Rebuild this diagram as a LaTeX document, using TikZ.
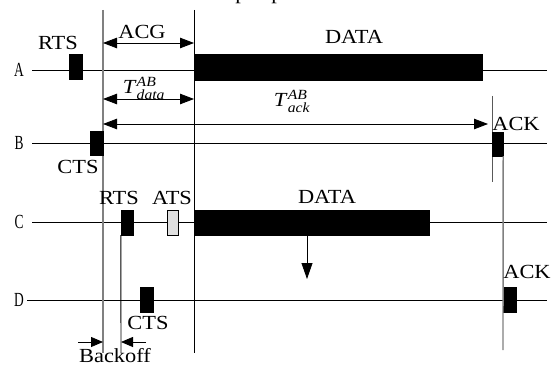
\documentclass[tikz,border=0pt]{standalone}
\usepackage{fontspec}
\usepackage{amsmath}
\setmainfont{Liberation Serif}[FakeStretch=1.12]
\usetikzlibrary{arrows.meta}
\begin{document}
\begin{tikzpicture}[x=1pt,y=-1pt,
  lbl/.style={inner sep=0pt, font=\fontsize{20}{20}\selectfont},
  row/.style={inner sep=0pt, font=\fontsize{20}{20}\selectfont},
  hline/.style={line width=0.9pt},
  gline/.style={line width=1.4pt, draw=black!50},
  bline/.style={line width=0.9pt},
  blk/.style={draw=black, fill=black, inner sep=0pt, line width=0.4pt, minimum width=13pt, minimum height=25pt},
  lblk/.style={blk, fill=black!12},
  arr/.style={line width=0.8pt, -{Triangle[length=12pt,width=10pt]}},
  varr/.style={line width=0.8pt, -{Triangle[length=16pt,width=11pt]}},
  darr/.style={line width=0.8pt, {Triangle[length=14pt,width=10.5pt]}-{Triangle[length=14pt,width=10.5pt]}}]
\useasboundingbox (0,0) rectangle (552,369);

% clipped caption remnants at top
\node[lbl, anchor=base] (cap1) at (241,-0.5) {p};
\node[lbl, anchor=base] (cap2) at (277,-0.5) {p};

% row labels
\node[row] (lA) at (19,70) {\scalebox{0.6}[1]{A}};
\node[row] (lB) at (19,143) {\scalebox{0.6}[1]{B}};
\node[row] (lC) at (19,222) {\scalebox{0.6}[1]{C}};
\node[row] (lD) at (19,300) {\scalebox{0.6}[1]{D}};

% time lines
\coordinate (a0) at (32,70);  \coordinate (a1) at (547,70);
\coordinate (b0) at (32,143); \coordinate (b1) at (547,143);
\coordinate (c0) at (32,222); \coordinate (c1) at (547,222);
\coordinate (d0) at (27,300); \coordinate (d1) at (547,300);
\draw[hline] (a0) -- (a1);
\draw[hline] (b0) -- (b1);
\draw[hline] (c0) -- (c1);
\draw[hline] (d0) -- (d1);

% vertical reference lines
\coordinate (g0) at (103,10);  \coordinate (g1) at (103,353);
\coordinate (k0) at (194,10);  \coordinate (k1) at (194,353);
\coordinate (r1) at (121,353);
\coordinate (q0) at (492,96);  \coordinate (q1) at (492,182);
\coordinate (p1) at (503,350);
\draw[gline] (g0) -- (g1);
\draw[bline] (k0) -- (k1);
\draw[line width=0.9pt, draw=black!65] (q0) -- (q1);

% blocks
\node[blk] (aRTS) at (75.5,67) {};
\node[blk, minimum width=288pt, minimum height=26pt] (aDATA) at (338,67) {};
\node[blk, minimum height=24pt] (bCTS) at (96.5,143.5) {};
\node[blk, minimum width=11pt, minimum height=24pt] (bACK) at (497.5,144) {};
\node[blk, minimum width=12pt] (cRTS) at (127,222.5) {};
\node[lblk, minimum width=11pt] (cATS) at (172.5,222.5) {};
\node[blk, minimum width=235pt] (cDATA) at (311.5,222.5) {};
\node[blk] (dCTS) at (146.5,299.5) {};
\node[blk] (dACK) at (509.5,299.5) {};

\draw[bline] (cRTS.south west) -- (r1);
\draw[gline] (bACK.south east) -- (p1);

% down arrow from C's DATA
\coordinate (dn) at (307,279);
\draw[varr] (cDATA.south -| dn) -- (dn);

% interval arrows
\coordinate (acg0) at (103,43);  \coordinate (acg1) at (194,43);
\coordinate (td0) at (103,99);   \coordinate (td1) at (194,99);
\coordinate (ta0) at (103,124);  \coordinate (ta1) at (488,124);
\draw[darr] (acg0) -- (acg1);
\draw[darr] (td0) -- (td1);
\draw[darr] (ta0) -- (ta1);

% backoff arrows
\coordinate (bo0) at (78,342);  \coordinate (bo1) at (103,342);
\coordinate (bo2) at (146,342); \coordinate (bo3) at (121,342);
\draw[arr] (bo0) -- (bo1);
\draw[arr] (bo2) -- (bo3);

% labels
\node[lbl] (tRTSa) at (58,43) {RTS};
\node[lbl] (tACG) at (142,32) {ACG};
\node[lbl] (tDATAa) at (354,37) {DATA};
\node[lbl] (tTd) at (144,88) {\textit{T}$^{\textit{AB}}_{\textit{data}}$};
\node[lbl] (tTa) at (292,101) {\textit{T}$^{\textit{AB}}_{\textit{ack}}$};
\node[lbl] (tACKb) at (516,124) {ACK};
\node[lbl] (tCTSb) at (78,167) {CTS};
\node[lbl] (tRTSc) at (119,198) {RTS};
\node[lbl] (tATS) at (172,198) {ATS};
\node[lbl] (tDATAc) at (327,197) {DATA};
\node[lbl] (tCTSd) at (148,323) {CTS};
\node[lbl] (tACKd) at (527,272) {ACK};
\node[lbl] (tBack) at (115,356) {Backoff};
\end{tikzpicture}
\end{document}
